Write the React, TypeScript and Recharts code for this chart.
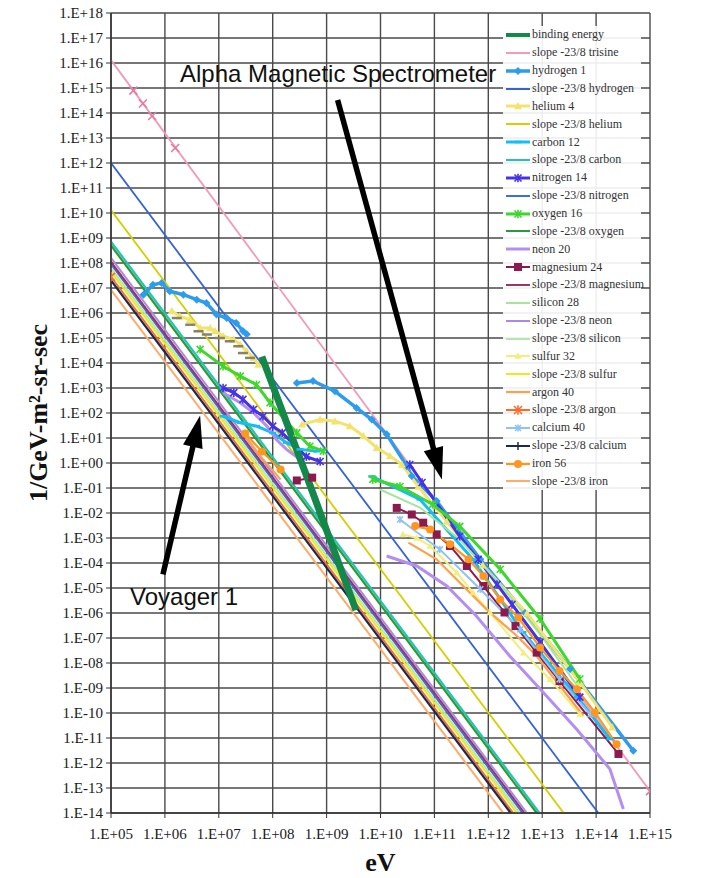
import React from "react";
import { LineChart, Line, XAxis, YAxis, CartesianGrid, Legend, ReferenceLine } from "recharts";

type Pt = [number, number];

// tick labels (the value of each tick is the label read as a number)
const xTickLabels = ["1.E+05", "1.E+06", "1.E+07", "1.E+08", "1.E+09", "1.E+10", "1.E+11", "1.E+12", "1.E+13", "1.E+14", "1.E+15"];
const yTickLabels = [
  "1.E+18", "1.E+17", "1.E+16", "1.E+15", "1.E+14", "1.E+13", "1.E+12", "1.E+11", "1.E+10", "1.E+09", "1.E+08",
  "1.E+07", "1.E+06", "1.E+05", "1.E+04", "1.E+03", "1.E+02", "1.E+01", "1.E+00", "1.E-01", "1.E-02", "1.E-03",
  "1.E-04", "1.E-05", "1.E-06", "1.E-07", "1.E-08", "1.E-09", "1.E-10", "1.E-11", "1.E-12", "1.E-13", "1.E-14",
];
const xTicks = xTickLabels.map(Number);
const yTicks = yTickLabels.map(Number);

// [eV, 1/GeV-m2-sr-sec]
const bindingEnergy: Pt[] = [[6.3e7, 1.8e4], [4.5e8, 0.22], [3.5e9, 1.3e-6]];

const trisineSlope: Pt[] = [[1e5, 1.3e16], [1e15, 7.5e-14]];
const trisineMarks: Pt[] = [[2.6e5, 7.9e14], [3.9e5, 2.4e14], [5.8e5, 7.6e13], [1.55e6, 4.0e12], [1e15, 7.5e-14]];

const hydrogenLow: Pt[] = [
  [4.0e5, 5.4e6], [6.0e5, 1.35e7], [8.7e5, 1.6e7], [1.23e6, 7.4e6], [2.2e6, 5.4e6], [3.9e6, 3.4e6],
  [5.9e6, 2.5e6], [9.1e6, 8.7e5], [1.4e7, 6.3e5], [2.1e7, 4.0e5], [2.8e7, 1.9e5], [3.3e7, 1.4e5],
];
const hydrogenHigh: Pt[] = [
  [2.8e8, 1.6e3], [5.6e8, 1.9e3], [1.43e9, 740], [3.6e9, 160], [6.9e9, 55], [1.3e10, 14], [3.1e10, 0.74],
  [3.8e10, 0.3], [1.1e11, 0.03], [7.1e11, 1.4e-4], [4.8e12, 1.0e-6], [3.3e13, 5.8e-9], [4.9e14, 3.1e-12],
];
const hydrogenSlope: Pt[] = [[1e5, 1e12], [1.1e14, 1e-14]];

const heliumLow: Pt[] = [
  [1.34e6, 1.2e6], [1.9e6, 7.4e5], [2.9e6, 5.4e5], [4.5e6, 2.5e5], [6.9e6, 2.5e5], [8.5e6, 1.9e5],
  [1.2e7, 1.2e5], [1.9e7, 8.7e4], [2.5e7, 5.5e4], [3.3e7, 3.0e4], [4.4e7, 1.6e4], [5.4e7, 8.7e3],
];
const heliumDashes: Pt[] = [
  [1.66e6, 6.3e5], [2.95e6, 3.4e5], [4.2e6, 1.86e5], [6.0e6, 1.38e5], [1.05e7, 1.0e5],
  [1.6e7, 7.4e4], [2.3e7, 4.7e4], [2.8e7, 2.5e4], [3.8e7, 1.6e4],
];
const heliumHigh: Pt[] = [
  [3.5e8, 35], [7.6e8, 55], [1.43e9, 47], [2.7e9, 30], [4.8e9, 12], [8.5e9, 4.1], [1.5e10, 1.9],
  [2.5e10, 0.87], [5.0e10, 0.115], [1.7e11, 4.6e-3], [7.9e11, 8.1e-5], [5.2e12, 9.8e-7], [5.0e13, 1.7e-9], [2.0e14, 2.7e-11],
];
const heliumSlope: Pt[] = [[1e5, 1.3e10], [2.5e13, 1e-14]];

const carbonLow: Pt[] = [[1.2e7, 74], [2.5e7, 41], [5.0e7, 30], [1.0e8, 16], [1.8e8, 6.5], [3.2e8, 3.5], [6.6e8, 2.95]];
const carbonHigh: Pt[] = [[6.9e9, 0.29], [5.4e10, 0.035], [5.2e11, 1.4e-4], [4.4e12, 1.7e-7], [4.5e13, 4.3e-10], [1.8e14, 9.1e-12]];
const carbonSlope: Pt[] = [[1e5, 7.2e8], [8.9e12, 1e-14]];

const nitrogenLow: Pt[] = [[1.2e7, 1.0e3], [1.9e7, 650], [2.8e7, 350], [4.4e7, 138], [6.6e7, 74], [1.0e8, 30], [1.5e8, 16], [4.2e8, 1.8], [7.6e8, 1.15]];
const nitrogenHigh: Pt[] = [[3.5e10, 0.87], [5.9e10, 0.166], [2.95e11, 1.17e-3], [6.5e11, 1.4e-4], [1.45e12, 1.4e-5], [2.75e12, 2.2e-6], [9.1e12, 6.8e-8], [5.0e13, 4.3e-10]];
const nitrogenSlope: Pt[] = [[1e5, 8.9e7], [4.3e12, 1e-14]];

const oxygenLow: Pt[] = [[4.5e6, 3.5e4], [1.2e7, 7.4e3], [2.5e7, 3.0e3], [5.0e7, 1.35e3], [8.9e7, 257], [2.8e8, 16], [4.9e8, 4.7], [8.7e8, 3.0]];
const oxygenHigh: Pt[] = [[7.2e9, 0.22], [2.3e10, 0.115], [9.3e10, 0.022], [2.95e11, 2.9e-3], [1.66e12, 5.6e-5], [9.1e12, 5.9e-7], [5.0e13, 2.3e-9]];
const oxygenSlope: Pt[] = [[1e5, 5.0e8], [7.9e12, 1e-14]];

const neonLow: Pt[] = [[1.2e7, 650], [2.5e7, 257], [4.4e7, 102], [7.8e7, 30], [1.17e8, 8.7], [1.8e8, 3.5], [3.2e8, 1.4]];
const neonHigh: Pt[] = [[1.3e10, 1.9e-4], [4.7e10, 7.6e-5], [1.7e11, 1.2e-5], [6.0e11, 7.6e-7], [2.5e12, 1.9e-8], [1.05e13, 6.6e-10], [4.4e13, 2.2e-11], [1.8e14, 5.8e-13], [3.2e14, 1.45e-14]];
const neonSlope: Pt[] = [[1e5, 1.6e8], [5.2e12, 1e-14]];

const magnesiumLow: Pt[] = [[2.8e8, 0.2], [5.4e8, 0.26]];
const magnesiumHigh: Pt[] = [
  [2.0e10, 0.016], [3.8e10, 8.7e-3], [6.2e10, 4.1e-3], [1.1e11, 1.4e-3], [1.95e11, 4.8e-4], [4.0e11, 7.6e-5],
  [8.1e11, 1.2e-5], [2.0e12, 1.05e-6], [3.2e12, 3.0e-7], [7.9e12, 2.6e-8], [2.1e13, 1.9e-9], [2.6e14, 2.3e-12],
];
const magnesiumSlope: Pt[] = [[1e5, 1.1e8], [4.7e12, 1e-14]];

const siliconHigh: Pt[] = [[9.8e9, 0.087], [5.4e10, 0.0166], [2.95e11, 8.7e-4], [1.66e12, 1.4e-5], [9.1e12, 1.4e-7], [5.0e13, 8.9e-10]];
const siliconSlope: Pt[] = [[1e5, 6.3e7], [3.8e12, 1e-14]];

const sulfurHigh: Pt[] = [[2.6e10, 1.4e-3], [4.7e10, 1.0e-3], [8.3e10, 4.8e-4], [2.6e11, 4.1e-5], [5.2e11, 6.6e-6], [1.07e12, 1.05e-6], [4.5e12, 2.6e-8], [1.4e13, 2.2e-9], [5.0e13, 8.9e-11]];
const sulfurSlope: Pt[] = [[1e5, 4.5e7], [3.4e12, 1e-14]];

const argonLow: Pt[] = [[2.8e7, 16.6], [4.3e7, 4.6], [6.6e7, 1.4], [1.4e8, 0.22]];
const argonHigh: Pt[] = [[3.3e10, 6.5e-4], [1.1e11, 1.4e-4], [2.95e11, 1.66e-5], [9.3e11, 1.4e-6], [3.4e12, 1.2e-7], [7.9e12, 1.9e-8], [1.9e13, 1.66e-9], [5.8e13, 7.8e-11]];
const argonSlope: Pt[] = [[1e5, 2.8e7], [2.9e12, 1e-14]];

const calciumHigh: Pt[] = [[2.3e10, 5.5e-3], [1.26e11, 3.5e-4], [7.1e11, 8.9e-6], [3.9e12, 2.2e-7], [2.1e13, 2.2e-9], [7.8e13, 8.9e-11]];
const calciumSlope: Pt[] = [[1e5, 2.0e7], [2.6e12, 1e-14]];

const ironLow: Pt[] = [[3.1e7, 15], [6.3e7, 2.9], [1.4e8, 0.55]];
const ironHigh: Pt[] = [
  [4.4e10, 3.0e-3], [8.3e10, 2.2e-3], [1.95e11, 5.6e-4], [4.3e11, 1.4e-4], [8.1e11, 3.0e-5], [1.66e12, 3.5e-6],
  [3.6e12, 6.6e-7], [9.1e12, 4.2e-8], [2.1e13, 4.8e-9], [4.4e13, 8.9e-10], [9.5e13, 1.05e-10], [2.4e14, 5.6e-12],
];
const ironSlope: Pt[] = [[1e5, 8.5e6], [1.9e12, 1e-14]];

// arrows: [start, tip] in data units
const amsArrow: Pt[] = [[1.6e9, 3.3e14], [1.38e11, 0.22]];
const voyagerArrow: Pt[] = [[9.2e5, 3.5e-5], [4.5e6, 79]];

type Shape = "diamond" | "triangle" | "square" | "circle" | "star" | "x" | "plus" | "dash";
interface Series {
  name: string;
  color: string;
  width: number;
  parts: Pt[][];
  marker?: Shape;
  size?: number;
  firstOnly?: boolean;
  legendOnly?: boolean;
  slope?: boolean;
}

const SERIES: Series[] = [
  { name: "binding energy", color: "#13884a", width: 7, parts: [bindingEnergy] },
  { name: "slope -23/8 trisine", color: "#f29ab8", width: 1.8, parts: [trisineSlope], slope: true },
  { name: "hydrogen 1", color: "#2d9cec", width: 3.5, parts: [hydrogenLow, hydrogenHigh], marker: "diamond", size: 4 },
  { name: "slope -23/8 hydrogen", color: "#3562d8", width: 1.8, parts: [hydrogenSlope], slope: true },
  { name: "helium 4", color: "#f2e36c", width: 3, parts: [heliumLow, heliumHigh], marker: "triangle", size: 4 },
  { name: "slope -23/8 helium", color: "#d4cf00", width: 1.8, parts: [heliumSlope], slope: true },
  { name: "carbon 12", color: "#12bef2", width: 3, parts: [carbonLow, carbonHigh], marker: "dash", size: 3.5 },
  { name: "slope -23/8 carbon", color: "#25c3b5", width: 2.2, parts: [carbonSlope], slope: true },
  { name: "nitrogen 14", color: "#4632e6", width: 3, parts: [nitrogenLow, nitrogenHigh], marker: "star", size: 3.5 },
  { name: "slope -23/8 nitrogen", color: "#3a6ee6", width: 1.8, parts: [nitrogenSlope], slope: true },
  { name: "oxygen 16", color: "#3ed82c", width: 3, parts: [oxygenLow, oxygenHigh], marker: "star", size: 3.5 },
  { name: "slope -23/8 oxygen", color: "#2c9a3a", width: 2.2, parts: [oxygenSlope], slope: true },
  { name: "neon 20", color: "#b48ef0", width: 3, parts: [neonLow, neonHigh] },
  { name: "magnesium 24", color: "#8c1a4c", width: 2, parts: [magnesiumLow, magnesiumHigh], marker: "square", size: 4 },
  { name: "slope -23/8 magnesium", color: "#9a3560", width: 2, parts: [magnesiumSlope], slope: true },
  { name: "silicon 28", color: "#a4e6a0", width: 2, parts: [siliconHigh] },
  { name: "slope -23/8 neon", color: "#a88ae8", width: 2, parts: [neonSlope], slope: true },
  { name: "slope -23/8 silicon", color: "#b2e8ae", width: 2, parts: [siliconSlope], slope: true },
  { name: "sulfur 32", color: "#f1ee7a", width: 2, parts: [sulfurHigh], marker: "triangle", size: 3.5 },
  { name: "slope -23/8 sulfur", color: "#ecea1c", width: 2, parts: [sulfurSlope], slope: true },
  { name: "argon 40", color: "#ffa04a", width: 2.2, parts: [argonLow, argonHigh] },
  { name: "slope -23/8 argon", color: "#ff6a2a", width: 1.8, parts: [argonSlope], marker: "star", size: 4, firstOnly: true, slope: true },
  { name: "calcium 40", color: "#8ec2f4", width: 2, parts: [calciumHigh], marker: "star", size: 3 },
  { name: "slope -23/8 calcium", color: "#1b2a4e", width: 2.2, parts: [calciumSlope], marker: "plus", size: 4, legendOnly: true, slope: true },
  { name: "iron 56", color: "#ff961e", width: 2.2, parts: [ironLow, ironHigh], marker: "circle", size: 4 },
  { name: "slope -23/8 iron", color: "#ffab6a", width: 2, parts: [ironSlope], slope: true },
];

const rows = (pts: Pt[]) => pts.map(([x, y]) => ({ x, y }));
const labelFor = (labels: string[]) => (v: number) =>
  labels.find((l) => Math.abs(Math.log10(Number(l)) - Math.log10(v)) < 1e-6) ?? "";

const SERIF = "'Liberation Serif', 'DejaVu Serif', serif";
const SANS = "'Liberation Sans', Arial, sans-serif";

function Marker({ shape, x, y, color, size }: { shape: Shape; x: number; y: number; color: string; size: number }) {
  const s = size;
  switch (shape) {
    case "diamond":
      return <polygon points={`${x},${y - s} ${x + s},${y} ${x},${y + s} ${x - s},${y}`} fill={color} />;
    case "triangle":
      return <polygon points={`${x},${y - s} ${x + s},${y + s * 0.8} ${x - s},${y + s * 0.8}`} fill={color} />;
    case "square":
      return <rect x={x - s} y={y - s} width={s * 2} height={s * 2} fill={color} />;
    case "circle":
      return <circle cx={x} cy={y} r={s} fill={color} />;
    case "dash":
      return <line x1={x - s} y1={y} x2={x + s} y2={y} stroke={color} strokeWidth={2.5} />;
    case "plus":
      return (
        <g stroke={color} strokeWidth={1.5}>
          <line x1={x - s} y1={y} x2={x + s} y2={y} />
          <line x1={x} y1={y - s} x2={x} y2={y + s} />
        </g>
      );
    case "x":
      return (
        <g stroke={color} strokeWidth={1.6}>
          <line x1={x - s} y1={y - s} x2={x + s} y2={y + s} />
          <line x1={x - s} y1={y + s} x2={x + s} y2={y - s} />
        </g>
      );
    default:
      return (
        <g stroke={color} strokeWidth={1.6}>
          <line x1={x - s} y1={y - s} x2={x + s} y2={y + s} />
          <line x1={x - s} y1={y + s} x2={x + s} y2={y - s} />
          <line x1={x} y1={y - s * 1.2} x2={x} y2={y + s * 1.2} />
        </g>
      );
  }
}

const dotFor = (shape: Shape | undefined, color: string, size: number, firstOnly?: boolean) => {
  if (!shape) return false;
  return (p: any) => {
    if (p.cx == null || p.cy == null || (firstOnly && p.index !== 0)) return <g key={`e-${p.index}`} />;
    return (
      <g key={`d-${p.index}`}>
        <Marker shape={shape} x={p.cx} y={p.cy} color={color} size={size} />
      </g>
    );
  };
};

const Arrow = (p: any) => {
  const { x1, y1, x2, y2 } = p;
  const dx = x2 - x1;
  const dy = y2 - y1;
  const len = Math.hypot(dx, dy) || 1;
  const ux = dx / len;
  const uy = dy / len;
  const head = 32;
  const half = 10;
  const bx = x2 - ux * head;
  const by = y2 - uy * head;
  return (
    <g>
      <line x1={x1} y1={y1} x2={bx + ux * 2} y2={by + uy * 2} stroke="#000" strokeWidth={5.5} />
      <polygon points={`${x2},${y2} ${bx - uy * half},${by + ux * half} ${bx + uy * half},${by - ux * half}`} fill="#000" />
    </g>
  );
};

const LegendBox = () => (
  <div style={{ width: 138, background: "rgba(255,255,255,0.9)", fontFamily: SERIF, fontSize: 12, color: "#333" }}>
    {SERIES.map((s) => (
      <div key={s.name} style={{ display: "flex", alignItems: "center", height: 17.86 }}>
        <svg width={28} height={17.86} style={{ flex: "none" }}>
          <line x1={3} y1={9} x2={27} y2={9} stroke={s.color} strokeWidth={s.slope ? 2 : Math.min(s.width, 4)} />
          {s.marker && <Marker shape={s.marker} x={15} y={9} color={s.color} size={Math.min(s.size ?? 4, 4)} />}
        </svg>
        <span style={{ whiteSpace: "nowrap", marginLeft: 1 }}>{s.name}</span>
      </div>
    ))}
  </div>
);

const YTitle = (props: any) => {
  const vb = props.viewBox || { x: 0, y: 13, width: 111, height: 800 };
  const cx = vb.x + 38;
  const cy = vb.y + vb.height / 2;
  return (
    <text
      x={cx}
      y={cy}
      transform={`rotate(-90 ${cx} ${cy})`}
      textAnchor="middle"
      dominantBaseline="central"
      style={{ fontFamily: SERIF, fontSize: 26, fontWeight: 700, fill: "#111" }}
    >
      1/GeV-m²-sr-sec
    </text>
  );
};

const drawOrder = [...SERIES.filter((s) => s.slope), ...SERIES.filter((s) => !s.slope && s.name !== "binding energy"), SERIES[0]];

export default function App() {
  const tickStyle = { fontSize: 15, fill: "#1a1a1a", fontFamily: SERIF };
  return (
    <div style={{ position: "absolute", left: 0, top: 0, width: 719, height: 878, background: "#fff" }}>
      <LineChart width={719} height={878} margin={{ top: 13, right: 69, bottom: 0, left: 0 }}>
        <CartesianGrid stroke="#4a4a4a" strokeWidth={1.4} />
        <XAxis
          dataKey="x"
          type="number"
          scale="log"
          domain={[1e5, 1e15]}
          ticks={xTicks}
          interval={0}
          allowDataOverflow
          height={65}
          tickSize={5}
          tickMargin={10}
          tickFormatter={labelFor(xTickLabels)}
          tick={tickStyle}
          axisLine={{ stroke: "#333", strokeWidth: 1.5 }}
          tickLine={{ stroke: "#333" }}
          label={{ value: "eV", position: "insideBottom", offset: 7, style: { fontFamily: SERIF, fontSize: 26, fontWeight: 700, fill: "#111" } }}
        />
        <YAxis
          dataKey="y"
          type="number"
          scale="log"
          domain={[1e-14, 1e18]}
          ticks={yTicks}
          interval={0}
          allowDataOverflow
          width={111}
          tickSize={5}
          tickMargin={3}
          tickFormatter={labelFor(yTickLabels)}
          tick={tickStyle}
          axisLine={{ stroke: "#333", strokeWidth: 1.5 }}
          tickLine={{ stroke: "#333" }}
          label={{ content: YTitle }}
        />
        {drawOrder.flatMap((s) =>
          s.parts.map((part, i) => (
            <Line
              key={`${s.name}-${i}`}
              data={rows(part)}
              dataKey="y"
              type="linear"
              stroke={s.color}
              strokeWidth={s.width}
              dot={s.legendOnly ? false : dotFor(s.marker, s.color, s.size ?? 4, s.firstOnly)}
              activeDot={false}
              isAnimationActive={false}
              legendType="none"
            />
          ))
        )}
        <Line
          data={rows(trisineMarks)}
          dataKey="y"
          stroke="none"
          dot={dotFor("x", "#e77aa0", 4)}
          activeDot={false}
          isAnimationActive={false}
          legendType="none"
        />
        <Line
          data={rows(heliumDashes)}
          dataKey="y"
          stroke="none"
          dot={dotFor("dash", "#8a8266", 5)}
          activeDot={false}
          isAnimationActive={false}
          legendType="none"
        />
        <ReferenceLine
          segment={amsArrow.map(([x, y]) => ({ x, y }))}
          ifOverflow="visible"
          shape={Arrow}
        />
        <ReferenceLine
          segment={voyagerArrow.map(([x, y]) => ({ x, y }))}
          ifOverflow="visible"
          shape={Arrow}
        />
        <Legend
          layout="vertical"
          align="center"
          verticalAlign="middle"
          content={<LegendBox />}
          wrapperStyle={{ left: 503, top: 26, width: 138 }}
        />
      </LineChart>
      <div style={{ position: "absolute", left: 180, top: 62, fontFamily: SANS, fontSize: 24, lineHeight: "24px", color: "#111", whiteSpace: "nowrap" }}>
        Alpha Magnetic Spectrometer
      </div>
      <div style={{ position: "absolute", left: 130, top: 585, fontFamily: SANS, fontSize: 24, lineHeight: "24px", color: "#111", whiteSpace: "nowrap" }}>
        Voyager 1
      </div>
    </div>
  );
}
